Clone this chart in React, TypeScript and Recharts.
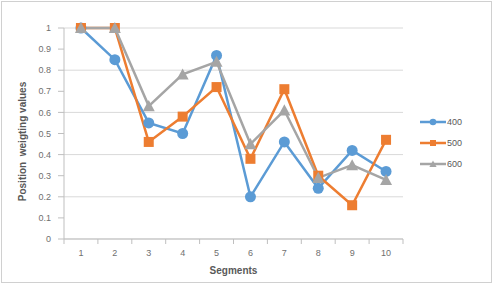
import { LineChart, Line, XAxis, YAxis, CartesianGrid, Label } from 'recharts';

const segments = ['1', '2', '3', '4', '5', '6', '7', '8', '9', '10'];
const series400 = [1, 0.85, 0.55, 0.5, 0.87, 0.2, 0.46, 0.24, 0.42, 0.32];
const series500 = [1, 1, 0.46, 0.58, 0.72, 0.38, 0.71, 0.3, 0.16, 0.47];
const series600 = [1, 1, 0.63, 0.78, 0.84, 0.45, 0.61, 0.29, 0.35, 0.28];
const yTicks = [0, 0.1, 0.2, 0.3, 0.4, 0.5, 0.6, 0.7, 0.8, 0.9, 1];

const SERIES = [
  { key: 's400', name: '400', color: '#5B9BD5', shape: 'circle' },
  { key: 's500', name: '500', color: '#ED7D31', shape: 'square' },
  { key: 's600', name: '600', color: '#A5A5A5', shape: 'triangle' },
];

const data = segments.map((s, i) => ({
  segment: s,
  s400: series400[i],
  s500: series500[i],
  s600: series600[i],
}));

const FONT = '"Liberation Sans", Arial, sans-serif';
const TEXT = '#595959';
const TICK_TEXT = '#6f6f6f';
const BAND = 339 / segments.length;

function Marker({ cx, cy, shape, color, size = 1 }: { cx: number; cy: number; shape: string; color: string; size?: number }) {
  if (cx == null || cy == null) return null;
  if (shape === 'square') {
    const h = 5 * size;
    return <rect x={cx - h} y={cy - h} width={h * 2} height={h * 2} fill={color} />;
  }
  if (shape === 'triangle') {
    const h = 6 * size;
    return <polygon points={`${cx},${cy - h} ${cx + h},${cy + h * 0.85} ${cx - h},${cy + h * 0.85}`} fill={color} />;
  }
  return <circle cx={cx} cy={cy} r={5.5 * size} fill={color} />;
}

// category ticks: label at the centre, tick marks on the band edges
// (y arrives already shifted by tickSize + tickMargin = 8)
function SegmentTick(props: any) {
  const { x, y, payload, index } = props;
  const axisY = y - 8;
  const left = x - BAND / 2;
  return (
    <g>
      <line x1={left} y1={axisY} x2={left} y2={axisY + 5} stroke="#bfbfbf" />
      {index === segments.length - 1 && (
        <line x1={x + BAND / 2} y1={axisY} x2={x + BAND / 2} y2={axisY + 5} stroke="#bfbfbf" />
      )}
      <text x={x} y={axisY + 17} textAnchor="middle" fontSize={9} fill={TICK_TEXT} fontFamily={FONT}>
        {payload.value}
      </text>
    </g>
  );
}

function YTitle({ viewBox }: any) {
  const cy = viewBox.y + viewBox.height / 2 + 8;
  return (
    <text
      x={22}
      y={cy}
      transform={`rotate(-90 22 ${cy})`}
      textAnchor="middle"
      dominantBaseline="central"
      fontFamily={FONT}
      fontSize={10}
      fontWeight="bold"
      fill={TEXT}
      style={{ whiteSpace: 'pre' }}
    >
      Position  weigting values
    </text>
  );
}

function LegendBox() {
  return (
    <div
      style={{
        position: 'absolute',
        left: 419,
        top: 111,
        fontFamily: FONT,
        fontSize: 9,
        color: TEXT,
      }}
    >
      {SERIES.map((s) => (
        <div key={s.key} style={{ display: 'flex', alignItems: 'center', height: 21 }}>
          <svg width={28} height={12}>
            <line x1={1} y1={6} x2={27} y2={6} stroke={s.color} strokeWidth={2.5} />
            <Marker cx={14} cy={6} shape={s.shape} color={s.color} size={0.6} />
          </svg>
          <span>{s.name}</span>
        </div>
      ))}
    </div>
  );
}

export default function App() {
  return (
    <div
      style={{
        position: 'absolute',
        left: 0,
        top: 0,
        width: 495,
        height: 286,
        background: '#fff',
      }}
    >
      <div
        style={{
          position: 'absolute',
          left: 1,
          top: 1,
          width: 491,
          height: 282,
          border: '1px solid #d0d0d0',
          boxSizing: 'border-box',
        }}
      />
      <LineChart
        width={495}
        height={286}
        data={data}
        margin={{ top: 28, right: 92, bottom: 0, left: 24 }}
      >
        <CartesianGrid vertical={false} stroke="#d9d9d9" />
        <XAxis
          dataKey="segment"
          scale="band"
          stroke="#bfbfbf"
          tickLine={false}
          tickSize={6}
          tickMargin={2}
          tick={<SegmentTick />}
          interval={0}
          height={47}
        >
          <Label
            value="Segments"
            position="insideBottom"
            offset={12}
            style={{ fontFamily: FONT, fontSize: 10, fontWeight: 'bold', fill: TEXT }}
          />
        </XAxis>
        <YAxis
          domain={[0, 1]}
          ticks={yTicks}
          width={40}
          stroke="#bfbfbf"
          tickSize={6}
          tickMargin={7}
          tick={{ fontFamily: FONT, fontSize: 9, fill: TICK_TEXT }}
          tickFormatter={(v: number) => String(Math.round(v * 10) / 10)}
        >
          <Label content={<YTitle />} />
        </YAxis>
        {SERIES.map((s) => (
          <Line
            key={s.key}
            dataKey={s.key}
            name={s.name}
            stroke={s.color}
            strokeWidth={2.5}
            isAnimationActive={false}
            dot={(p: any) => (
              <Marker key={`${s.key}-${p.index}`} cx={p.cx} cy={p.cy} shape={s.shape} color={s.color} />
            )}
            activeDot={false}
          />
        ))}
      </LineChart>
      <LegendBox />
    </div>
  );
}
